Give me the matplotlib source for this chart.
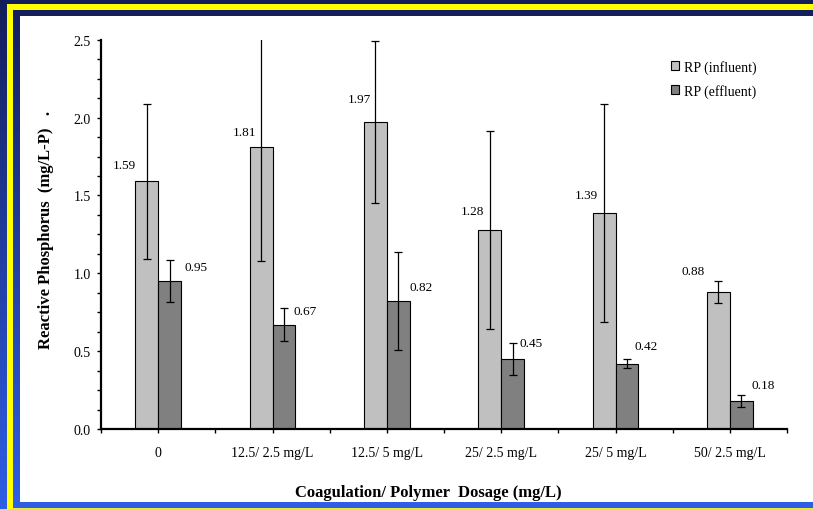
import matplotlib
matplotlib.use('Agg')
import matplotlib.pyplot as plt
from matplotlib.colors import LinearSegmentedColormap
from matplotlib.patches import Rectangle
from matplotlib.ticker import MultipleLocator, FormatStrFormatter
import numpy as np

plt.rcParams['font.family'] = ['Liberation Serif', 'DejaVu Serif']

dosages = ['0', '12.5/ 2.5 mg/L', '12.5/ 5 mg/L', '25/ 2.5 mg/L', '25/ 5 mg/L', '50/ 2.5 mg/L']
rp_influent = [1.59, 1.81, 1.97, 1.28, 1.39, 0.88]
rp_influent_err = [0.50, 0.73, 0.52, 0.635, 0.70, 0.07]
rp_effluent = [0.95, 0.67, 0.82, 0.45, 0.42, 0.18]
rp_effluent_err = [0.135, 0.105, 0.315, 0.10, 0.03, 0.04]

# nudges for the value labels, in pixels (right, up)
inf_label_nudge = [(1, 16), (7, 15), (7, 23), (6, 19), (5, 18), (-2, 21)]
eff_label_nudge = [(3, 14), (-2, 14), (0, 14), (-5, 16), (-4, 18), (-1, 16)]

W, H = 813, 510
PX = 0.72  # points per pixel at dpi 100

fig = plt.figure(figsize=(W / 100, H / 100), dpi=100)

# slide frame: blue gradient, yellow rule, white panel
bg = fig.add_axes([0, 0, 1, 1], zorder=-5)
bg.set_xlim(0, W)
bg.set_ylim(H, 0)
bg.axis('off')
frame_cmap = LinearSegmentedColormap.from_list('frame', ['#141d5a', '#2f5fe6'])
bg.imshow(np.linspace(0, 1, 256)[:, None], cmap=frame_cmap, aspect='auto',
          extent=(0, W, H, 0))
bg.add_patch(Rectangle((7, 5), W - 7, 6, color='#ffff00', lw=0))
bg.add_patch(Rectangle((7, 5), 6.3, H, color='#ffff00', lw=0))
bg.add_patch(Rectangle((13, 508.6), W - 13, 1.6, color='#e8e830', lw=0))
bg.add_patch(Rectangle((20, 17.3), W - 20, 503.3 - 17.3, color='white', lw=0))

ax = fig.add_axes([101 / W, (H - 430) / H, 686 / W, 389.25 / H])
ax.set_facecolor('none')

x = np.arange(len(dosages))
w = 0.2
b1 = ax.bar(x - w / 2, rp_influent, w, color='#c0c0c0', edgecolor='black',
            linewidth=0.8, label='RP (influent)')
b2 = ax.bar(x + w / 2, rp_effluent, w, color='#808080', edgecolor='black',
            linewidth=0.8, label='RP (effluent)')
ax.errorbar(x - w / 2, rp_influent, yerr=rp_influent_err, fmt='none',
            ecolor='black', elinewidth=0.9, capsize=3, capthick=0.9)
ax.errorbar(x + w / 2, rp_effluent, yerr=rp_effluent_err, fmt='none',
            ecolor='black', elinewidth=0.9, capsize=3, capthick=0.9)

for i in range(len(dosages)):
    dx, dy = inf_label_nudge[i]
    ax.annotate(f'{rp_influent[i]:.2f}', xy=(x[i] - w, rp_influent[i]),
                xytext=(dx * PX, dy * PX), textcoords='offset points',
                ha='right', va='center', fontsize=9.5)
    dx, dy = eff_label_nudge[i]
    ax.annotate(f'{rp_effluent[i]:.2f}', xy=(x[i] + w, rp_effluent[i]),
                xytext=(dx * PX, dy * PX), textcoords='offset points',
                ha='left', va='center', fontsize=9.5)

ax.set_xlim(-0.5, len(dosages) - 0.5)
ax.set_ylim(0, 2.5)
ax.set_xticks(x)
ax.set_xticklabels(dosages)
ax.set_xticks(np.arange(-0.5, len(dosages), 1), minor=True)
ax.yaxis.set_major_locator(MultipleLocator(0.5))
ax.yaxis.set_minor_locator(MultipleLocator(0.125))
ax.yaxis.set_major_formatter(FormatStrFormatter('%.1f'))
ax.tick_params(axis='both', which='both', direction='out', length=3, width=1.0,
               colors='black')
ax.tick_params(axis='x', which='major', pad=9, labelsize=10)
ax.tick_params(axis='y', which='major', pad=4.3, labelsize=10)

for side in ['top', 'right']:
    ax.spines[side].set_visible(False)
for side in ['left', 'bottom']:
    ax.spines[side].set_linewidth(1.6)

fig.text(46 / W, 1 - 230 / H, 'Reactive Phosphorus  (mg/L-P)   .', rotation=90,
         ha='center', va='center', fontsize=12, fontweight='bold')
fig.text(428 / W, 1 - 493 / H, 'Coagulation/ Polymer  Dosage (mg/L)',
         ha='center', va='center', fontsize=12, fontweight='bold')

ax.legend(handles=[b1, b2], loc='upper left', bbox_to_anchor=(670.7 / W, 1 - 61 / H),
          bbox_transform=fig.transFigure, frameon=False, fontsize=10,
          handlelength=0.63, handleheight=0.63, handletextpad=0.3,
          labelspacing=0.7, borderpad=0, borderaxespad=0)

fig.savefig('out.png', dpi=100)
